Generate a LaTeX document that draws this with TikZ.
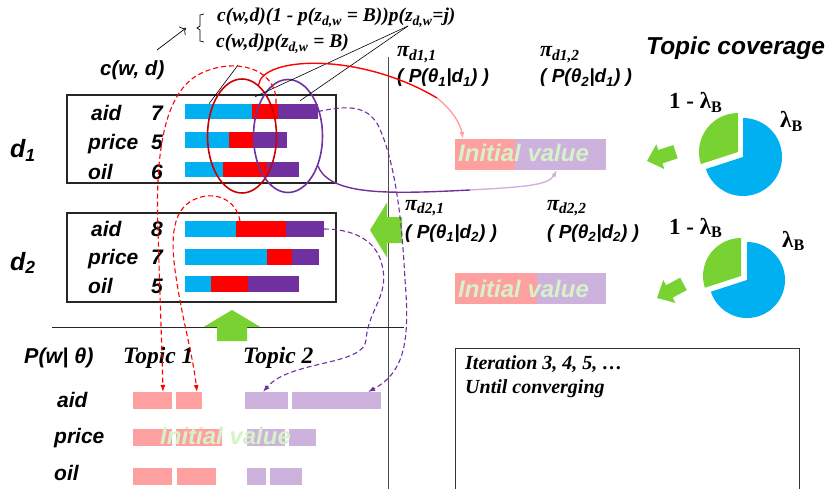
\documentclass[tikz,border=0pt]{standalone}
\usepackage{fontspec}
\setmainfont{Liberation Sans}
\newfontfamily\tnr{Liberation Serif}
\usetikzlibrary{arrows.meta,shapes.geometric}
\definecolor{skyblue}{RGB}{0,176,240}
\definecolor{barred}{RGB}{255,0,0}
\definecolor{barpurple}{RGB}{112,48,160}
\definecolor{lightpink}{RGB}{255,160,160}
\definecolor{lilac}{RGB}{206,178,222}
\definecolor{leafgreen}{RGB}{120,210,50}
\definecolor{palegreen}{RGB}{214,242,200}
\definecolor{ellred}{RGB}{204,0,0}
\newcommand{\fatarrow}[6]{\fill[leafgreen,shift={(#1)},rotate=#2] (0,0) -- (-#3,#4) -- (-#3,#5) -- (-#6,#5) -- (-#6,-#5) -- (-#3,-#5) -- (-#3,-#4) -- cycle;}

\begin{document}
\begin{tikzpicture}[x=1pt,y=-1pt,>={Latex[length=7pt,width=5pt]},
  bar/.style={anchor=west,inner sep=0,outer sep=0,minimum height=15.5},
  tbar/.style={anchor=west,inner sep=0,outer sep=0,minimum height=17},
  word/.style={anchor=base west,inner sep=0,font=\bfseries\itshape\fontsize{21}{24}\selectfont},
  tnrlbl/.style={anchor=base west,inner sep=0,font=\tnr\bfseries\itshape\fontsize{22}{26}\selectfont},
  lamlbl/.style={anchor=base west,inner sep=0,font=\tnr\bfseries\fontsize{23}{26}\selectfont},
  initval/.style={anchor=base west,inner sep=0,text=palegreen,font=\bfseries\itshape\fontsize{24}{28}\selectfont},
  condlbl/.style={anchor=base west,inner sep=0,font=\bfseries\itshape\fontsize{19}{22}\selectfont},
  redflow/.style={barred,line width=1.1,dash pattern=on 5pt off 3pt,->},
  purpleflow/.style={barpurple,line width=1.1,dash pattern=on 5pt off 3pt,->},
  docbox/.style={line width=1.2,black!85}]
  \useasboundingbox (0,0) rectangle (829,489);

  % formulas at the top
  \node[tnrlbl,font=\tnr\bfseries\itshape\fontsize{19.5}{22}\selectfont] (fml1) at (217,22) {c(w,d)(1 - p(z\textsubscript{d,w} = B))p(z\textsubscript{d,w}=j)};
  \node[tnrlbl,font=\tnr\bfseries\itshape\fontsize{19.5}{22}\selectfont] (fml2) at (216,48) {c(w,d)p(z\textsubscript{d,w} = B)};
  \draw[line width=0.7] (204,14) -- (200,15) -- (200,26) -- (197,28) -- (200,30) -- (200,41) -- (204,42);
  \node[word,font=\bfseries\itshape\fontsize{20.5}{24}\selectfont] (cwd) at (100,76) {c(w, d)};
  \coordinate (cwdtip) at (157,50);
  \coordinate (bracetip) at (186,28);
  \draw[-{To[length=5pt]},line width=0.7] (cwdtip) -- (bracetip);

  % documents d1, d2
  \draw[docbox] (67,95) rectangle (336,183);
  \draw[docbox] (67,213) rectangle (336,302);
  \node[word,font=\bfseries\itshape\fontsize{25}{28}\selectfont] (doc1) at (10,158) {d\textsubscript{1}};
  \node[word,font=\bfseries\itshape\fontsize{25}{28}\selectfont] (doc2) at (10,270) {d\textsubscript{2}};
  \node[word] (w11) at (91,121) {aid};   \node[word] (c11) at (151,121) {7};
  \node[word] (w12) at (88,150) {price}; \node[word] (c12) at (151,150) {5};
  \node[word] (w13) at (88,179) {oil};   \node[word] (c13) at (151,179) {6};
  \node[word] (w21) at (91,236) {aid};   \node[word] (c21) at (151,236) {8};
  \node[word] (w22) at (88,264) {price}; \node[word] (c22) at (151,264) {7};
  \node[word] (w23) at (88,293) {oil};   \node[word] (c23) at (151,293) {5};

  \foreach \y/\b/\r/\p [count=\i] in {111.5/252/278/318, 140/229/253/287, 169.5/223/267/299} {
    \node[bar,fill=skyblue,minimum width=\b-185] (d1b\i) at (185,\y) {};
    \node[bar,fill=barred,minimum width=\r-\b] (d1r\i) at (\b,\y) {};
    \node[bar,fill=barpurple,minimum width=\p-\r] (d1p\i) at (\r,\y) {};
  }
  \foreach \y/\b/\r/\p [count=\i] in {229/236/286/324, 257/267/292/319, 284/211/248/299} {
    \node[bar,fill=skyblue,minimum width=\b-185] (d2b\i) at (185,\y) {};
    \node[bar,fill=barred,minimum width=\r-\b] (d2r\i) at (\b,\y) {};
    \node[bar,fill=barpurple,minimum width=\p-\r] (d2p\i) at (\r,\y) {};
  }

  \node[ellipse,draw=ellred,line width=1.6,minimum width=69,minimum height=114,inner sep=0] (ell1) at (242,136) {};
  \node[ellipse,draw=barpurple,line width=1.6,minimum width=69,minimum height=113,inner sep=0] (ell2) at (288,136) {};

  \coordinate (fmltip) at (408,26);
  \coordinate (fml2foot) at (238,65);
  \draw[line width=0.6] (fml2foot) -- ([xshift=-9.5pt]d1b1.north);
  \draw[line width=0.6] (fmltip) -- ([xshift=-10pt,yshift=7pt]d1r1.north);
  \draw[line width=0.6] (fmltip) -- ([xshift=2pt,yshift=3pt]d1p1.north);

  % separators
  \draw[line width=0.8,black!70] (388,57) -- (388,489);
  \draw[line width=0.8,black!85] (52,327) -- (404,327);

  % green arrows
  \fatarrow{232,310}{90}{17}{28.5}{15}{31}
  \fatarrow{370,230}{180}{17}{27.5}{13}{32}
  \fatarrow{647,161}{198}{14}{13}{7}{30}
  \fatarrow{657,298}{208}{14}{13}{7}{30}

  % word distributions
  \node[word,font=\bfseries\itshape\fontsize{21.5}{24}\selectfont] (pwt) at (24,363) {P(w| θ)};
  \node[tnrlbl,font=\tnr\bfseries\itshape\fontsize{23.5}{26}\selectfont] (topic1) at (123,363) {Topic 1};
  \node[tnrlbl,font=\tnr\bfseries\itshape\fontsize{23.5}{26}\selectfont] (topic2) at (243,363) {Topic 2};
  \node[word] (v1) at (57,407) {aid};
  \node[word] (v2) at (54,443) {price};
  \node[word] (v3) at (54,480) {oil};
  \node[tbar,fill=lightpink,minimum width=39] (t1aid1) at (133,400.5) {};
  \node[tbar,fill=lightpink,minimum width=26] (t1aid2) at (176,400.5) {};
  \node[tbar,fill=lilac,minimum width=43] (t2aid1) at (245,400.5) {};
  \node[tbar,fill=lilac,minimum width=89] (t2aid2) at (292,400.5) {};
  \node[tbar,fill=lightpink,minimum width=39] (t1pri1) at (133,437.5) {};
  \node[tbar,fill=lightpink,minimum width=46] (t1pri2) at (176,437.5) {};
  \node[tbar,fill=lilac,minimum width=38] (t2pri1) at (247,437.5) {};
  \node[tbar,fill=lilac,minimum width=27] (t2pri2) at (289,437.5) {};
  \node[tbar,fill=lightpink,minimum width=39] (t1oil1) at (133,476) {};
  \node[tbar,fill=lightpink,minimum width=39] (t1oil2) at (177,476) {};
  \node[tbar,fill=lilac,minimum width=19] (t2oil1) at (247,476) {};
  \node[tbar,fill=lilac,minimum width=32] (t2oil2) at (270,476) {};
  \node[initval] (iv0) at (160,444) {Initial value};

  % topic coverage
  \node[word,font=\bfseries\itshape\fontsize{24.5}{28}\selectfont] (cover) at (646,55) {Topic coverage};
  \node[tnrlbl] (pi11) at (397,57) {π\textsubscript{d1,1}};
  \node[condlbl] (th11) at (397,83) {( P(θ\textsubscript{1}|d\textsubscript{1}) )};
  \node[tnrlbl] (pi12) at (540,57) {π\textsubscript{d1,2}};
  \node[condlbl] (th12) at (540,83) {( P(θ\textsubscript{2}|d\textsubscript{1}) )};
  \node[tnrlbl] (pi21) at (405,210) {π\textsubscript{d2,1}};
  \node[condlbl] (th21) at (405,238) {( P(θ\textsubscript{1}|d\textsubscript{2}) )};
  \node[tnrlbl] (pi22) at (547,210) {π\textsubscript{d2,2}};
  \node[condlbl] (th22) at (547,238) {( P(θ\textsubscript{2}|d\textsubscript{2}) )};

  \node[bar,fill=lightpink,minimum width=60,minimum height=31] (iv1a) at (455,154.5) {};
  \node[bar,fill=lilac,minimum width=91,minimum height=31] (iv1b) at (515,154.5) {};
  \node[initval] (iv1) at (458,162) {Initial value};
  \node[bar,fill=lightpink,minimum width=82,minimum height=31] (iv2a) at (455,288.5) {};
  \node[bar,fill=lilac,minimum width=69,minimum height=31] (iv2b) at (537,288.5) {};
  \node[initval] (iv2) at (458,297) {Initial value};

  % pies
  \coordinate (pie1) at (743,157);
  \fill[skyblue] (pie1) -- ++(-90:39) arc[start angle=-90,end angle=162,radius=39] -- cycle;
  \fill[leafgreen] ([shift={(-5,-5)}]pie1) -- ++(-90:39) arc[start angle=-90,end angle=-198,radius=39] -- cycle;
  \coordinate (pie2) at (747,280);
  \fill[skyblue] (pie2) -- ++(-90:38) arc[start angle=-90,end angle=162,radius=38] -- cycle;
  \fill[leafgreen] ([shift={(-6,-4)}]pie2) -- ++(-90:38) arc[start angle=-90,end angle=-198,radius=38] -- cycle;
  \node[lamlbl] (lam1) at (669,109) {1 - λ\textsubscript{B}};
  \node[lamlbl] (lamb1) at (780,128) {λ\textsubscript{B}};
  \node[lamlbl] (lam2) at (669,234) {1 - λ\textsubscript{B}};
  \node[lamlbl] (lamb2) at (782,247) {λ\textsubscript{B}};

  % flows
  \draw[barred,line width=1.4] (ell1.72) .. controls (262,56) and (360,52) .. (437,98) coordinate (redmid);
  \draw[lightpink,line width=1.4,->] (redmid) .. controls (450,108) and (460,122) .. ([xshift=8pt]iv1a.north west);
  \draw[barpurple,line width=1.4] (ell2.-45) .. controls (330,196) and (390,194) .. (470,190) coordinate (purmid);
  \draw[lilac,line width=1.4,->] (purmid) .. controls (520,187) and (548,186) .. ([xshift=42pt]iv1b.south west);
  \draw[redflow] ([xshift=-2pt]d1r1.north east) .. controls (278,66) and (230,56) .. (196,76) .. controls (165,96) and (155,150) .. (158,230) .. controls (160,300) and (162,350) .. ([xshift=10.5pt]t1aid1.north);
  \draw[redflow] ([xshift=4pt]d2r1.north west) .. controls (236,198) and (214,192) .. (198,198) .. controls (174,206) and (170,232) .. (175,270) .. controls (182,320) and (192,350) .. ([xshift=8pt]t1aid2.north);
  \draw[purpleflow] (d1p1.east) .. controls (345,106) and (366,104) .. (378,125) .. controls (395,160) and (402,220) .. (405,280) .. controls (410,340) and (405,372) .. ([xshift=31.5pt]t2aid2.north);
  \draw[purpleflow] (d2p1.east) .. controls (350,229) and (376,238) .. (382,265) .. controls (390,295) and (368,310) .. (366,340) .. controls (364,366) and (290,360) .. ([xshift=-3.5pt]t2aid1.north);

  % iteration note
  \draw[line width=0.9,black!80] (455,495) -- (455,348) -- (799,348) -- (799,495);
  \node[tnrlbl,align=left,anchor=north west,font=\tnr\bfseries\itshape\fontsize{20}{24}\selectfont] (iter) at (465,355) {Iteration 3, 4, 5, …\\Until converging};
\end{tikzpicture}
\end{document}
